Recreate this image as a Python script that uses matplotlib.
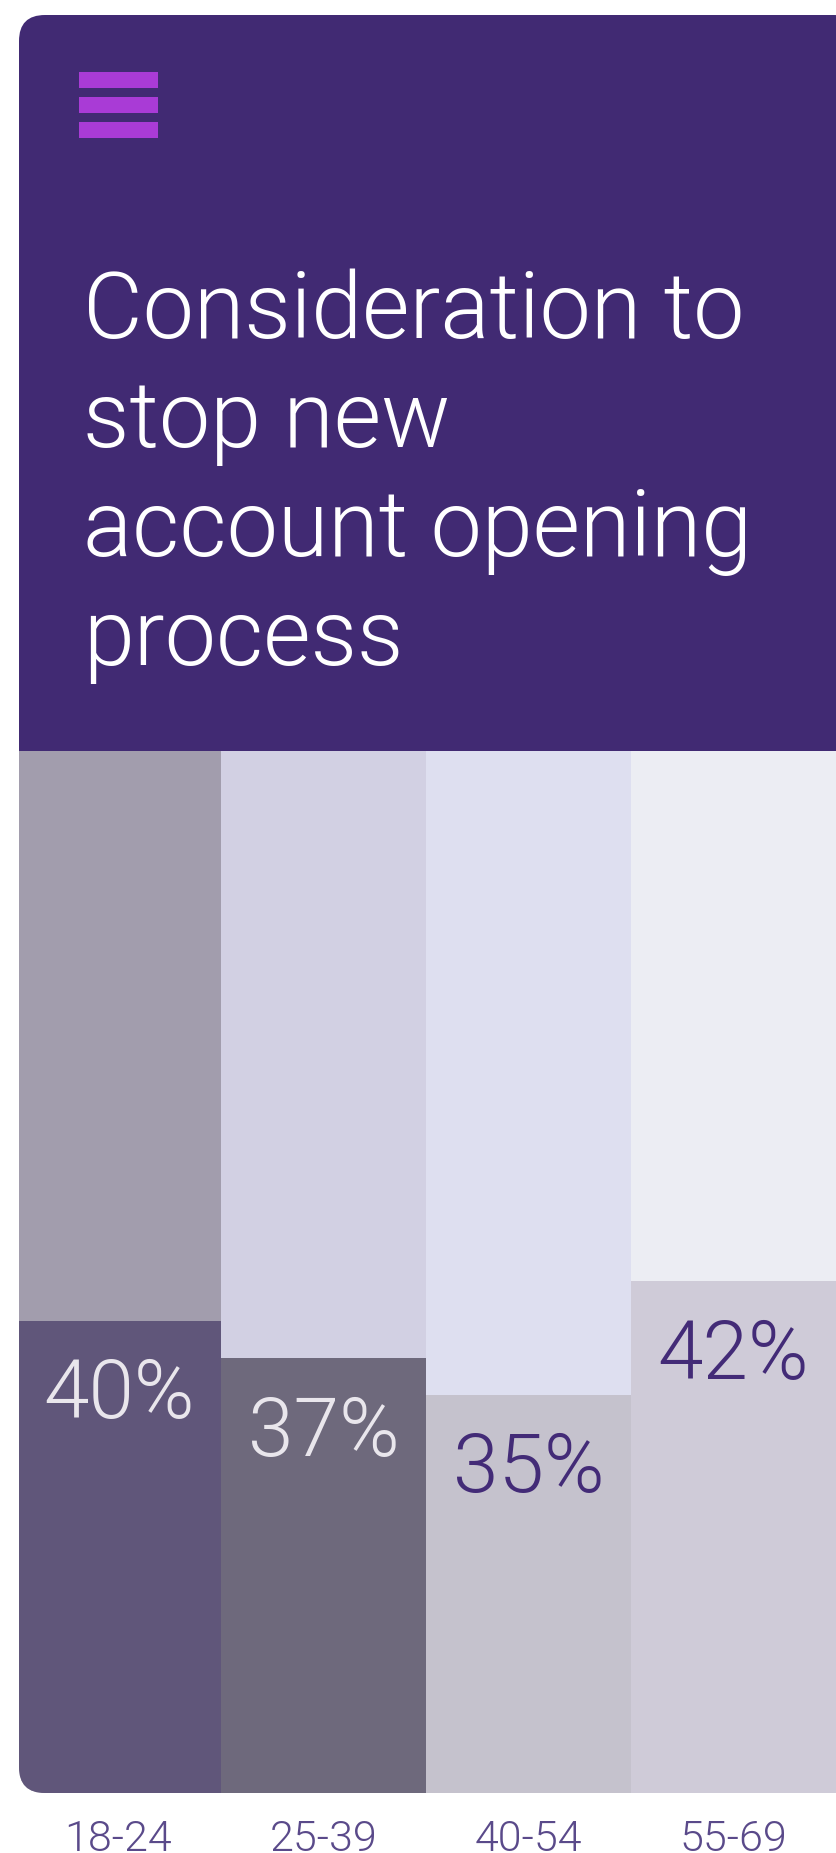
import matplotlib
matplotlib.use("Agg")
from matplotlib import pyplot as plt
from matplotlib.patches import FancyBboxPatch, Rectangle

plt.rcParams['font.family'] = ['Roboto', 'DejaVu Sans']

# data
age_groups = ['18-24', '25-39', '40-54', '55-69']
share_labels = ['40%', '37%', '35%', '42%']
bar_heights = [45.3, 41.7, 38.2, 49.1]   # dark part, % of column height as drawn
title_lines = ['Consideration to', 'stop new', 'account opening', 'process']

purple = '#412a73'
top_colors = ['#a29dad', '#d2d0e3', '#dedff0', '#ecedf3']
bar_colors = ['#60567a', '#6e697c', '#c5c2cd', '#cfcbd8']
label_colors = ['#e9e6ec', '#e9e6ec', '#432b77', '#432b77']
LIGHT = 300  # Roboto-Light (matplotlib's 'light' picks Thin)

W, H = 836, 1853
fig = plt.figure(figsize=(W / 100, H / 100), dpi=100)

# overlay in pixel coords for the card
bg = fig.add_axes([0, 0, 1, 1])
bg.set_xlim(0, W)
bg.set_ylim(H, 0)
bg.axis('off')

card = FancyBboxPatch((19, 15), 860 - 19, 1793 - 15,
                      boxstyle='round,pad=0,rounding_size=26',
                      facecolor='none', edgecolor='none')
bg.add_patch(card)
header = Rectangle((0, 0), W, 751, facecolor=purple, edgecolor='none')
bg.add_patch(header)
header.set_clip_path(card)

# hamburger icon
for y0 in (72, 97, 122):
    bg.add_patch(Rectangle((79, y0), 79, 16, facecolor='#a93bd6', edgecolor='none'))

for i, line in enumerate(title_lines):
    bg.text(83, 338 + i * 109, line, color='white', fontsize=66,
            fontweight=LIGHT, va='baseline', ha='left')

# bars
ax = fig.add_axes([16 / W, (H - 1793) / H, (W - 16) / W, (1793 - 751) / H])
ax.set_xlim(-0.5, 3.5)
ax.set_ylim(0, 100)
ax.patch.set_alpha(0)
for s in ax.spines.values():
    s.set_visible(False)
ax.set_yticks([])

x = range(len(age_groups))
back = ax.bar(x, [100] * 4, width=1.0, color=top_colors, linewidth=0)
front = ax.bar(x, bar_heights, width=1.0, color=bar_colors, linewidth=0)
for p in list(back) + list(front):
    p.set_clip_path(card)

for i in x:
    ax.annotate(share_labels[i], (i, bar_heights[i]), xytext=(0, -70),
                textcoords='offset points', ha='center', va='baseline',
                fontsize=59, fontweight=LIGHT, color=label_colors[i])

ax.set_xticks(list(x))
ax.set_xticklabels(age_groups, fontsize=31, fontweight=LIGHT, color='#5a4a8a')
ax.tick_params(axis='x', length=0, pad=19)

fig.savefig('out.png', dpi=100)
